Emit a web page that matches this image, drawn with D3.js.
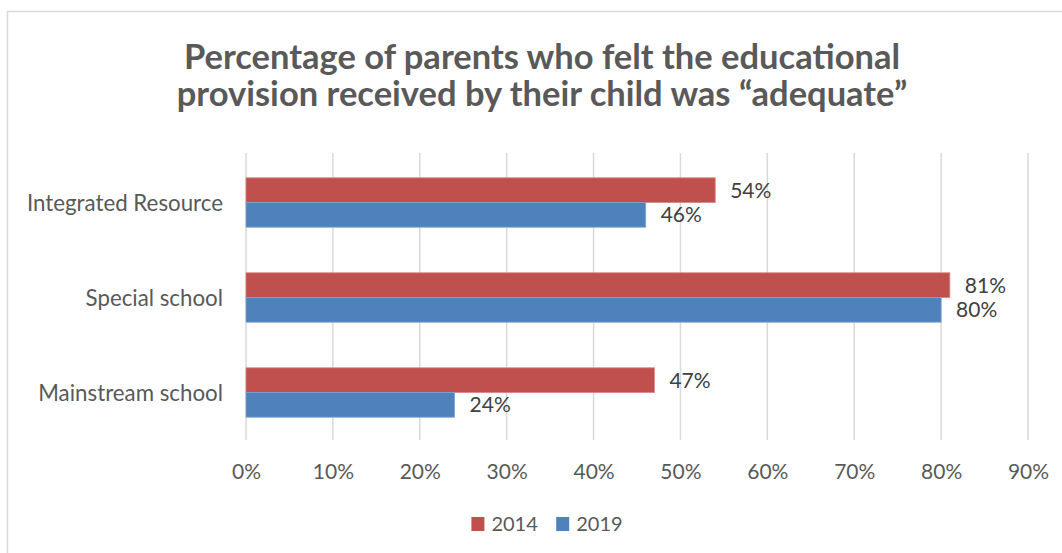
<!DOCTYPE html>
<html>
<head>
<meta charset="utf-8">
<script src="https://cdn.jsdelivr.net/npm/d3@7"></script>
<style>
  html, body { margin: 0; padding: 0; background: #fff; }
  svg text { font-family: Lato, "Open Sans", sans-serif; }
</style>
</head>
<body>
<svg id="chart" width="1062" height="553"></svg>
<script>
// Survey categories (top to bottom) and the share answering "adequate" per survey year
const categories = ["Integrated Resource", "Special school", "Mainstream school"];
const seriesNames = ["2014", "2019"];
const values2014 = [54, 81, 47];
const values2019 = [46, 80, 24];
const tickValues = [0, 10, 20, 30, 40, 50, 60, 70, 80, 90];
const titleLines = ["Percentage of parents who felt the educational",
                    "provision received by their child was \u201cadequate\u201d"];
const colors = ["#C0504D", "#4F81BD"];
const strokes = ["#D9837F", "#7FA3D1"];

const series = [values2014, values2019];
const rows = categories.map((c, i) => ({
  category: c,
  bars: seriesNames.map((s, j) => ({ series: s, value: series[j][i], idx: j }))
}));

const svg = d3.select("#chart");
const W = 1062, H = 553;

// Chart frame
svg.append("rect")
  .attr("x", 7.5).attr("y", 11.5)
  .attr("width", W + 20).attr("height", H + 20)
  .attr("fill", "#fff").attr("stroke", "#D9D9D9").attr("stroke-width", 1.5);

// Title
const title = svg.append("text")
  .attr("text-anchor", "middle")
  .attr("fill", "#595959")
  .style("font-weight", "bold")
  .style("font-size", "34.5px");
title.selectAll("tspan").data(titleLines).join("tspan")
  .attr("x", 542)
  .attr("y", (d, i) => 69 + i * 37)
  .text(d => d);

// Plot area
const plot = { left: 246, right: 1028, top: 155, bottom: 440 };

const x = d3.scaleLinear().domain([0, 90]).range([plot.left, plot.right]);
const y0 = d3.scaleBand().domain(categories)
  .range([plot.top, plot.bottom]).paddingInner(0.48).paddingOuter(0.24);
const y1 = d3.scaleBand().domain(seriesNames).range([0, y0.bandwidth()]).padding(0);

// Vertical gridlines
svg.append("g").selectAll("line").data(tickValues).join("line")
  .attr("x1", d => x(d)).attr("x2", d => x(d))
  .attr("y1", plot.top - 2).attr("y2", plot.bottom)
  .attr("stroke", "#D9D9D9").attr("stroke-width", 1.5);

// X axis tick labels
const xAxis = d3.axisBottom(x).tickValues(tickValues).tickFormat(d => d + "%").tickSize(0).tickPadding(0);
const xg = svg.append("g").attr("transform", `translate(0,${plot.bottom})`).call(xAxis);
xg.select(".domain").remove();
xg.selectAll("text")
  .attr("y", 38.5).attr("dy", 0)
  .attr("fill", "#595959")
  .style("font-family", "Lato, sans-serif")
  .style("font-size", "21px");

// Category labels
const yAxis = d3.axisLeft(y0).tickSize(0).tickPadding(0);
const yg = svg.append("g").attr("transform", `translate(223,0)`).call(yAxis);
yg.select(".domain").remove();
yg.selectAll("text")
  .attr("x", 0).attr("dy", "0.36em")
  .attr("fill", "#595959")
  .style("font-family", "Lato, sans-serif")
  .style("font-size", "22.3px");

// Bars
const groups = svg.append("g").selectAll("g").data(rows).join("g")
  .attr("transform", d => `translate(0,${y0(d.category)})`);

groups.selectAll("rect").data(d => d.bars).join("rect")
  .attr("x", x(0))
  .attr("y", d => y1(d.series))
  .attr("width", d => x(d.value) - x(0))
  .attr("height", y1.bandwidth())
  .attr("fill", d => colors[d.idx])
  .attr("stroke", d => strokes[d.idx])
  .attr("stroke-width", 0.8);

// Value labels
groups.selectAll("text").data(d => d.bars).join("text")
  .attr("x", d => x(d.value) + 15)
  .attr("y", d => y1(d.series) + y1.bandwidth() / 2)
  .attr("dy", "0.36em")
  .attr("fill", "#404040")
  .style("font-size", "21px")
  .text(d => d.value + "%");

// Legend
const legend = svg.append("g");
const items = legend.selectAll("g").data(seriesNames).join("g");
items.append("rect")
  .attr("width", 13).attr("height", 14)
  .attr("y", -7)
  .attr("fill", (d, i) => colors[i]);
items.append("text")
  .attr("x", 20).attr("dy", "0.36em")
  .attr("fill", "#595959")
  .style("font-size", "20px")
  .text(d => d);
const widths = [];
items.each(function () { widths.push(this.getBBox().width); });
const gap = 18;
const total = d3.sum(widths) + gap * (widths.length - 1);
let cx = 547 - total / 2;
items.attr("transform", (d, i) => {
  const t = `translate(${cx},524)`;
  cx += widths[i] + gap;
  return t;
});
</script>
</body>
</html>
